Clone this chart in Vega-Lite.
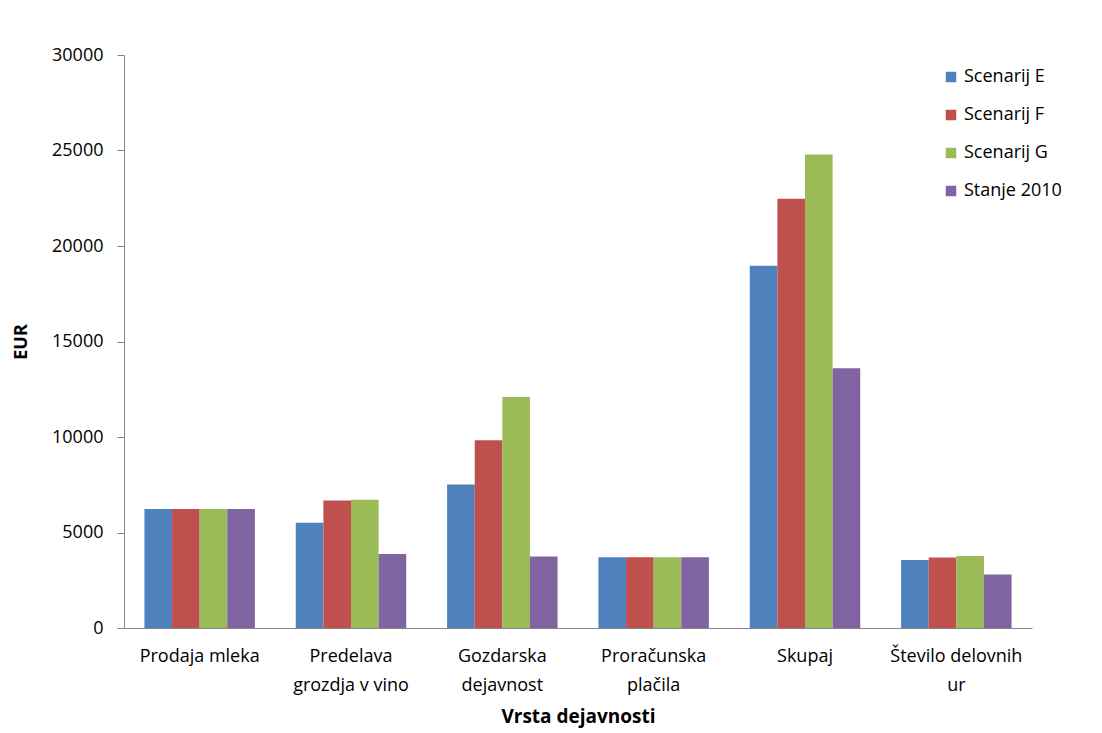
{
  "$schema": "https://vega.github.io/schema/vega-lite/v6.json",
  "width": 908,
  "height": 573,
  "autosize": {"type": "none"},
  "padding": {"left": 124, "top": 55, "right": 70, "bottom": 105},
  "background": "white",
  "config": {
    "view": {"stroke": null},
    "font": "Open Sans",
    "axis": {"labelFont": "Open Sans", "titleFont": "Open Sans", "labelColor": "#000000", "titleColor": "#000000", "domainColor": "#868686", "tickColor": "#868686", "grid": false},
    "legend": {"labelFont": "Open Sans"}
  },
  "data": {
    "values": [
      {"kategorija": "Prodaja mleka", "serija": "Scenarij E", "vrednost": 6230},
      {"kategorija": "Prodaja mleka", "serija": "Scenarij F", "vrednost": 6230},
      {"kategorija": "Prodaja mleka", "serija": "Scenarij G", "vrednost": 6230},
      {"kategorija": "Prodaja mleka", "serija": "Stanje 2010", "vrednost": 6230},
      {"kategorija": "Predelava grozdja v vino", "serija": "Scenarij E", "vrednost": 5510},
      {"kategorija": "Predelava grozdja v vino", "serija": "Scenarij F", "vrednost": 6670},
      {"kategorija": "Predelava grozdja v vino", "serija": "Scenarij G", "vrednost": 6720},
      {"kategorija": "Predelava grozdja v vino", "serija": "Stanje 2010", "vrednost": 3880},
      {"kategorija": "Gozdarska dejavnost", "serija": "Scenarij E", "vrednost": 7510},
      {"kategorija": "Gozdarska dejavnost", "serija": "Scenarij F", "vrednost": 9830},
      {"kategorija": "Gozdarska dejavnost", "serija": "Scenarij G", "vrednost": 12100},
      {"kategorija": "Gozdarska dejavnost", "serija": "Stanje 2010", "vrednost": 3740},
      {"kategorija": "Proračunska plačila", "serija": "Scenarij E", "vrednost": 3700},
      {"kategorija": "Proračunska plačila", "serija": "Scenarij F", "vrednost": 3700},
      {"kategorija": "Proračunska plačila", "serija": "Scenarij G", "vrednost": 3700},
      {"kategorija": "Proračunska plačila", "serija": "Stanje 2010", "vrednost": 3700},
      {"kategorija": "Skupaj", "serija": "Scenarij E", "vrednost": 18970},
      {"kategorija": "Skupaj", "serija": "Scenarij F", "vrednost": 22480},
      {"kategorija": "Skupaj", "serija": "Scenarij G", "vrednost": 24790},
      {"kategorija": "Skupaj", "serija": "Stanje 2010", "vrednost": 13600},
      {"kategorija": "Število delovnih ur", "serija": "Scenarij E", "vrednost": 3560},
      {"kategorija": "Število delovnih ur", "serija": "Scenarij F", "vrednost": 3690},
      {"kategorija": "Število delovnih ur", "serija": "Scenarij G", "vrednost": 3770},
      {"kategorija": "Število delovnih ur", "serija": "Stanje 2010", "vrednost": 2800}
    ]
  },
  "mark": {"type": "bar"},
  "encoding": {
    "x": {
      "field": "kategorija",
      "type": "nominal",
      "sort": null,
      "scale": {"paddingInner": 0.27, "paddingOuter": 0.135},
      "axis": {
        "title": "Vrsta dejavnosti",
        "titleFontSize": 19,
        "titleFontWeight": "bold",
        "titlePadding": 13,
        "labelFontSize": 18,
        "labelAngle": 0,
        "ticks": false,
        "labelPadding": 19,
        "labelLineHeight": 29,
        "labelLimit": 300,
        "labelExpr": "datum.value == 'Predelava grozdja v vino' ? ['Predelava', 'grozdja v vino'] : datum.value == 'Gozdarska dejavnost' ? ['Gozdarska', 'dejavnost'] : datum.value == 'Proračunska plačila' ? ['Proračunska', 'plačila'] : datum.value == 'Število delovnih ur' ? ['Število delovnih', 'ur'] : datum.label"
      }
    },
    "xOffset": {"field": "serija", "type": "nominal", "scale": {"paddingInner": 0, "paddingOuter": 0}},
    "y": {
      "field": "vrednost",
      "type": "quantitative",
      "scale": {"domain": [0, 30000], "nice": false},
      "axis": {
        "title": "EUR",
        "titleFontSize": 18,
        "titleFontWeight": "bold",
        "titlePadding": 21,
        "labelFontSize": 18,
        "values": [0, 5000, 10000, 15000, 20000, 25000, 30000],
        "format": "d",
        "tickSize": 7,
        "labelPadding": 14
      }
    },
    "color": {
      "field": "serija",
      "type": "nominal",
      "scale": {"domain": ["Scenarij E", "Scenarij F", "Scenarij G", "Stanje 2010"], "range": ["#4F81BD", "#C0504D", "#9BBB59", "#8064A2"]},
      "legend": {
        "title": null,
        "orient": "none",
        "legendX": 818,
        "legendY": 13,
        "symbolType": "square",
        "symbolSize": 110,
        "symbolStrokeWidth": 0,
        "labelFontSize": 18,
        "labelColor": "#000000",
        "rowPadding": 20,
        "labelOffset": 4
      }
    }
  }
}
